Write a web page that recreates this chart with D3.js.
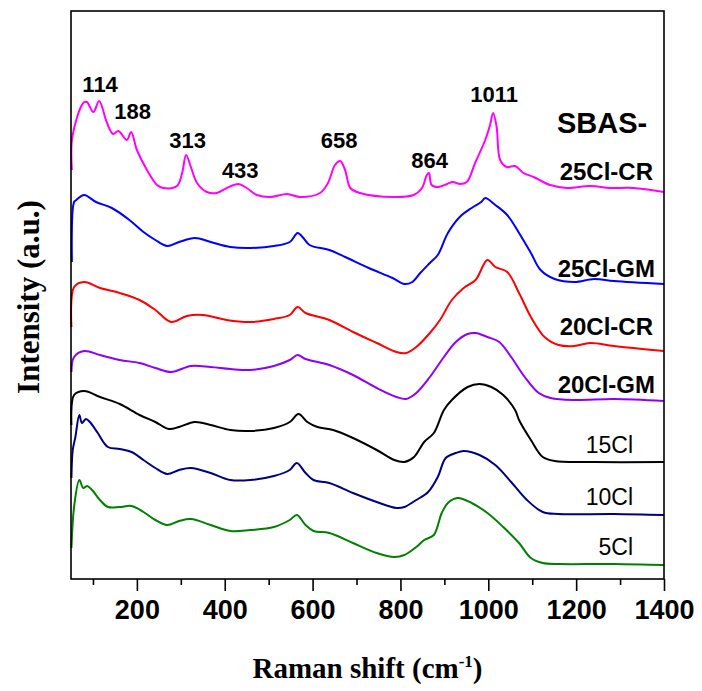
<!DOCTYPE html>
<html>
<head>
<meta charset="utf-8">
<script src="https://cdn.jsdelivr.net/npm/d3@7"></script>
<style>
  body { margin: 0; background: #fff; }
  text.tick-label { font: bold 27px "Liberation Sans", Arial, sans-serif; }
  text.peak { font: bold 22px "Liberation Sans", Arial, sans-serif; }
  text.axis-title { font: bold 29px "Liberation Serif", "Times New Roman", serif; }
</style>
</head>
<body>
<svg id="chart" width="702" height="691"></svg>
<script>
// Raman spectra, [shift (cm-1), intensity (a.u., stacked)]
const cl25CR = [[52,409],[53,442],[78,476],[86,477],[101,467],[114,478],[132,456],[146,445],[158,448],[177,439],[187,447],[200,429],[223,409],[246,394],[260,391],[291,393],[303,406],[312,424],[323,412],[337,396],[359,387],[382,386],[405,391],[431,395],[450,391],[473,384],[504,382],[542,385],[572,382],[617,386],[635,396],[651,414],[663,418],[674,409],[686,391],[708,386],[784,382],[830,384],[849,391],[860,404],[865,406],[871,394],[886,392],[906,395],[919,397],[936,395],[951,397],[970,416],[993,439],[1004,454],[1011,466],[1019,452],[1027,419],[1042,412],[1061,413],[1080,406],[1103,402],[1125,397],[1141,394],[1179,391],[1232,393],[1277,391],[1330,391],[1400,387]]
const cl25GM = [[52,317],[57,377],[62,379],[80,384],[107,377],[143,371],[183,359],[215,347],[242,339],[269,333],[296,337],[332,341],[368,337],[413,332],[458,331],[512,333],[548,337],[566,346],[579,341],[593,334],[638,329],[674,322],[728,311],[782,301],[809,295],[827,297],[845,306],[867,316],[885,324],[908,346],[935,362],[962,371],[984,377],[993,381],[1016,374],[1043,364],[1070,346],[1097,326],[1119,309],[1151,300],[1196,297],[1241,300],[1286,298],[1400,295]]
const cl20CR = [[51,252],[57,292],[80,297],[116,291],[161,286],[206,279],[242,269],[278,257],[314,263],[350,264],[404,259],[458,257],[512,260],[548,264],[566,272],[584,266],[638,259],[692,247],[746,236],[791,227],[813,226],[836,232],[867,246],[890,259],[917,279],[944,291],[971,299],[998,319],[1016,312],[1043,307],[1070,286],[1097,262],[1128,242],[1160,234],[1196,233],[1232,236],[1286,233],[1400,228]]
const cl20GM = [[51,207],[57,222],[80,228],[116,224],[161,219],[206,216],[242,211],[278,207],[323,213],[368,212],[413,210],[458,209],[512,213],[548,219],[566,224],[584,220],[638,214],[692,204],[746,191],[791,182],[813,180],[836,186],[867,202],[899,222],[926,237],[953,245],[971,246],[998,242],[1025,237],[1052,222],[1083,202],[1115,186],[1142,181],[1196,179],[1286,180],[1400,178]]
const cl15 = [[51,154],[57,184],[80,188],[116,182],[161,175],[206,164],[242,157],[273,150],[296,152],[332,157],[368,154],[413,149],[458,148],[512,151],[548,157],[568,165],[588,157],[611,152],[647,149],[692,141],[746,129],[786,119],[809,117],[831,122],[854,137],[876,146],[899,169],[917,179],[953,192],[980,195],[1007,192],[1034,184],[1061,169],[1070,159],[1097,139],[1124,122],[1151,118],[1241,117],[1400,117]]
const cl10 = [[51,101],[54,129],[60,142],[69,164],[75,156],[84,160],[93,157],[111,146],[134,132],[161,130],[188,127],[215,119],[242,111],[269,105],[296,109],[323,111],[368,106],[413,99],[458,99],[512,103],[548,109],[564,116],[584,106],[602,99],[638,96],[692,86],[746,77],[791,71],[809,72],[836,79],[863,87],[885,102],[903,121],[926,126],[944,128],[980,124],[1016,114],[1052,97],[1088,79],[1124,67],[1160,65],[1286,65],[1400,64]]
const cl5 = [[51,31],[57,72],[69,99],[78,91],[87,93],[98,89],[116,79],[134,72],[161,72],[188,73],[215,67],[242,59],[269,54],[296,58],[323,60],[368,54],[413,48],[458,49],[512,52],[548,59],[564,64],[584,54],[602,48],[638,46],[692,36],[746,26],[786,22],[809,24],[836,32],[854,39],[876,44],[894,66],[908,76],[930,81],[962,76],[998,66],[1034,52],[1070,36],[1097,21],[1124,16],[1160,15],[1286,15],[1400,14]]

const spectra = [cl25CR, cl25GM, cl20CR, cl20GM, cl15, cl10, cl5]
const sampleNames = ['25Cl-CR', '25Cl-GM', '20Cl-CR', '20Cl-GM', '15Cl', '10Cl', '5Cl']
const colors = ['#ff00ff', '#0000ff', '#ff0000', '#8b00ff', '#000000', '#000080', '#008000']

const peaks = [114, 188, 313, 433, 658, 864, 1011]
const peakLabelLevel = [487, 460, 431, 401, 431, 411, 477]

const majorTicks = [200, 400, 600, 800, 1000, 1200, 1400]
const minorTicks = [100, 300, 500, 700, 900, 1100, 1300]

const svg = d3.select('#chart')
const margin = { top: 11, right: 38, bottom: 112, left: 71 }
const width = +svg.attr('width')
const height = +svg.attr('height')

const x = d3.scaleLinear()
  .domain([50, 1400])
  .range([margin.left, width - margin.right])

const y = d3.scaleLinear()
  .domain([0, 568])
  .range([height - margin.bottom, margin.top])

// spectra
const line = d3.line()
  .x(d => x(d[0]))
  .y(d => y(d[1]))
  .curve(d3.curveCatmullRom.alpha(0.5))

svg.append('g')
  .selectAll('path')
  .data(spectra)
  .enter()
  .append('path')
  .attr('d', line)
  .attr('fill', 'none')
  .attr('stroke', (d, i) => colors[i])
  .attr('stroke-width', 2)
  .attr('stroke-linejoin', 'round')

// frame
svg.append('rect')
  .attr('x', x(50))
  .attr('y', y(568))
  .attr('width', x(1400) - x(50))
  .attr('height', y(0) - y(568))
  .attr('fill', 'none')
  .attr('stroke', '#000')
  .attr('stroke-width', 1.6)

const xAxis = g => g
  .attr('transform', `translate(0,${y(0)})`)
  .call(d3.axisBottom(x).tickValues(majorTicks).tickSize(12).tickPadding(9).tickFormat(d3.format('d')))
  .call(g => g.select('.domain').remove())
  .call(g => g.selectAll('.tick line').attr('stroke-width', 1.6))
  .call(g => g.selectAll('.tick text').attr('class', 'tick-label').attr('fill', '#000'))

const xMinor = g => g
  .attr('transform', `translate(0,${y(0)})`)
  .call(d3.axisBottom(x).tickValues(minorTicks).tickSize(6).tickFormat(''))
  .call(g => g.select('.domain').remove())
  .call(g => g.selectAll('.tick line').attr('stroke-width', 1.6))

svg.append('g').call(xAxis)
svg.append('g').call(xMinor)

// peak positions on the top spectrum
svg.append('g')
  .selectAll('text')
  .data(peaks)
  .enter()
  .append('text')
  .attr('class', 'peak')
  .attr('x', d => x(d) + 1)
  .attr('y', (d, i) => y(peakLabelLevel[i]))
  .attr('text-anchor', 'middle')
  .text(d => d)

// sample labels
const labelDy = [-12, -7, -16, -8, -9, -10, -10]
const labelRight = [653, 655, 653, 655, 633, 633, 633]
svg.append('g')
  .selectAll('text')
  .data(sampleNames)
  .enter()
  .append('text')
  .attr('x', (d, i) => labelRight[i])
  .attr('y', (d, i) => y(spectra[i][spectra[i].length - 1][1]) + labelDy[i])
  .attr('text-anchor', 'end')
  .style('font-family', '"Liberation Sans", Arial, sans-serif')
  .style('font-size', (d, i) => i < 4 ? '24px' : '23px')
  .style('font-weight', (d, i) => i < 4 ? 'bold' : 'normal')
  .text(d => d)

svg.append('text')
  .attr('x', 557)
  .attr('y', 133)
  .style('font', 'bold 29px "Liberation Sans", Arial, sans-serif')
  .text('SBAS-')

// axis titles
const xTitle = svg.append('text')
  .attr('class', 'axis-title')
  .attr('x', (x(50) + x(1400)) / 2)
  .attr('y', 678)
  .attr('text-anchor', 'middle')
xTitle.append('tspan').text('Raman shift (cm')
xTitle.append('tspan').attr('dy', -11).style('font-size', '17px').text('-1')
xTitle.append('tspan').attr('dy', 11).text(')')

svg.append('text')
  .attr('class', 'axis-title')
  .style('font-size', '31px')
  .attr('transform', `translate(39,${(y(0) + y(568)) / 2 + 2}) rotate(-90)`)
  .attr('text-anchor', 'middle')
  .text('Intensity (a.u.)')
</script>
</body>
</html>
